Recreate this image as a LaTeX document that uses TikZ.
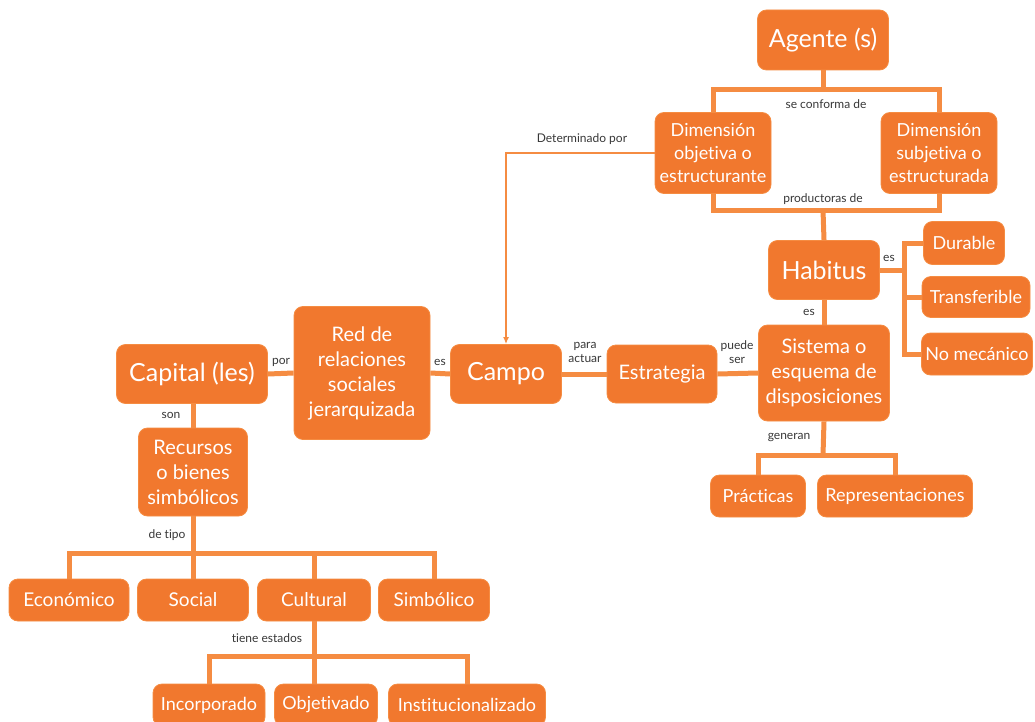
\documentclass[tikz,border=0pt]{standalone}
\usepackage{fontspec}
\setmainfont{Lato}[Ligatures=NoCommon]
\usepackage{tikz}
\usetikzlibrary{arrows.meta,calc,positioning}
\definecolor{naranja}{RGB}{241,120,46}
\definecolor{linea}{RGB}{245,140,66}
\definecolor{gris}{RGB}{55,55,55}
\tikzset{
  caja/.style={rounded corners=9pt,fill=naranja,draw=linea,line width=0.8pt,text=white,align=center,inner sep=1pt},
  grande/.style={caja,font=\fontsize{25}{30}\selectfont},
  media/.style={caja,font=\fontsize{20}{25}\selectfont},
  chica/.style={caja,font=\fontsize{18}{23}\selectfont},
  tipo/.style={caja,font=\fontsize{19}{23}\selectfont},
  rama/.style={draw=linea,line width=5pt},
  flecha/.style={draw=linea,line width=2pt,-{Latex[length=7pt,width=6pt]}},
  etiq/.style={font=\fontsize{12}{14}\selectfont,text=gris,align=center,inner sep=0pt}
}
\begin{document}
\begin{tikzpicture}[x=1pt,y=-1pt]
            \useasboundingbox (0,0) rectangle (1035,722);
            \node[grande,minimum width=131,minimum height=60] (agente) at (823,40) {Agente (s)};
            \node[chica,minimum width=116,minimum height=81] (dimobj) at (713,153) {Dimensión\\objetiva o\\estructurante};
            \node[chica,minimum width=116,minimum height=81] (dimsub) at (939,153) {Dimensión\\subjetiva o\\estructurada};
            \node[grande,minimum width=111,minimum height=59] (habitus) at (824,270) {Habitus};
            \node[chica,minimum width=81,minimum height=43] (durable) at (964,243) {Durable};
            \node[chica,minimum width=108,minimum height=41] (transf) at (976,297) {Transferible};
            \node[chica,minimum width=111,minimum height=42] (nomec) at (977,354) {No mecánico};
            \node[media,minimum width=131,minimum height=96] (sistema) at (824,373) {Sistema o\\esquema de\\disposiciones};
            \node[media,minimum width=110,minimum height=58] (estrategia) at (662,374) {Estrategia};
            \node[grande,minimum width=111,minimum height=59] (campo) at (506,374) {Campo};
            \node[media,minimum width=136,minimum height=133] (red) at (362,373) {Red de\\relaciones\\sociales\\jerarquizada};
            \node[grande,minimum width=151,minimum height=59] (capital) at (192,374) {Capital (les)};
            \node[media,minimum width=109,minimum height=88] (recursos) at (193,472) {Recursos\\o bienes\\simbólicos};
            \node[tipo,minimum width=120,minimum height=42] (economico) at (69,600) {Económico};
            \node[tipo,minimum width=111,minimum height=42] (social) at (193,600) {Social};
            \node[tipo,minimum width=113,minimum height=42] (cultural) at (314,600) {Cultural};
            \node[tipo,minimum width=111,minimum height=42] (simbolico) at (434,600) {Simbólico};
            \node[chica,minimum width=112,minimum height=42] (incorp) at (209,705) {Incorporado};
            \node[chica,minimum width=103,minimum height=42] (objet) at (326,705) {Objetivado};
            \node[chica,minimum width=157,minimum height=42] (instit) at (467,705) {Institucionalizado};
            \node[chica,minimum width=95,minimum height=42] (practicas) at (758,496) {Prácticas};
            \node[chica,minimum width=155,minimum height=42] (repres) at (895,496) {Representaciones};
            \coordinate (sc) at (823,90);
            \coordinate (pd) at (823,210);
            \coordinate (hb) at (904,270);
            \coordinate (gn) at (823,455);
            \coordinate (dt) at (193,553);
            \coordinate (te) at (314,656);
            \draw[rama] (agente.south) -- (sc);
            \draw[rama] (dimobj.north) |- (sc) -| (dimsub.north);
            \draw[rama] (dimobj.south) |- (pd) -| (dimsub.south);
            \draw[rama] (pd) -- (habitus.north);
            \draw[flecha] (dimobj.west) -| (campo.north);
            \draw[rama] (habitus.east) -- (hb);
            \draw[rama] (durable.west) -| (hb) |- (nomec.west);
            \draw[rama] (transf.west) -- (transf.west -| hb);
            \draw[rama] (habitus.south) -- (sistema.north);
            \draw[rama] (estrategia.east) -- (sistema.west);
            \draw[rama] (campo.east) -- (estrategia.west);
            \draw[rama] (red.east) -- (campo.west);
            \draw[rama] (capital.east) -- (red.west);
            \draw[rama] (capital.south -| recursos.north) -- (recursos.north);
            \draw[rama] (sistema.south) -- (gn);
            \draw[rama] (practicas.north) |- (gn) -| (repres.north);
            \draw[rama] (recursos.south) -- (dt);
            \draw[rama] (economico.north) |- (dt) -| (simbolico.north);
            \draw[rama] (dt) -- (social.north);
            \draw[rama] (cultural.north) -- (cultural.north |- dt);
            \draw[rama] (cultural.south) -- (te);
            \draw[rama] (incorp.north) |- (te) -| (instit.north);
            \draw[rama] (te) -- (te |- objet.north);
            \node[etiq] (lsc) at (826,104) {se conforma de};
            \node[etiq] (lpd) at (823,199) {productoras de};
            \node[etiq] (ldet) at (582,139) {Determinado por};
            \node[etiq] (les1) at (889,258) {es};
            \node[etiq] (les2) at (809,312) {es};
            \node[etiq] (lpuede) at (737,352) {puede\\ser};
            \node[etiq] (lpara) at (585,352) {para\\actuar};
            \node[etiq] (les3) at (440,362) {es};
            \node[etiq] (lpor) at (281,362) {por};
            \node[etiq] (lson) at (171,415) {son};
            \node[etiq] (ltipo) at (167,535) {de tipo};
            \node[etiq] (ltiene) at (267,638) {tiene estados};
            \node[etiq] (lgen) at (789,437) {generan};
        \end{tikzpicture}
\end{document}
